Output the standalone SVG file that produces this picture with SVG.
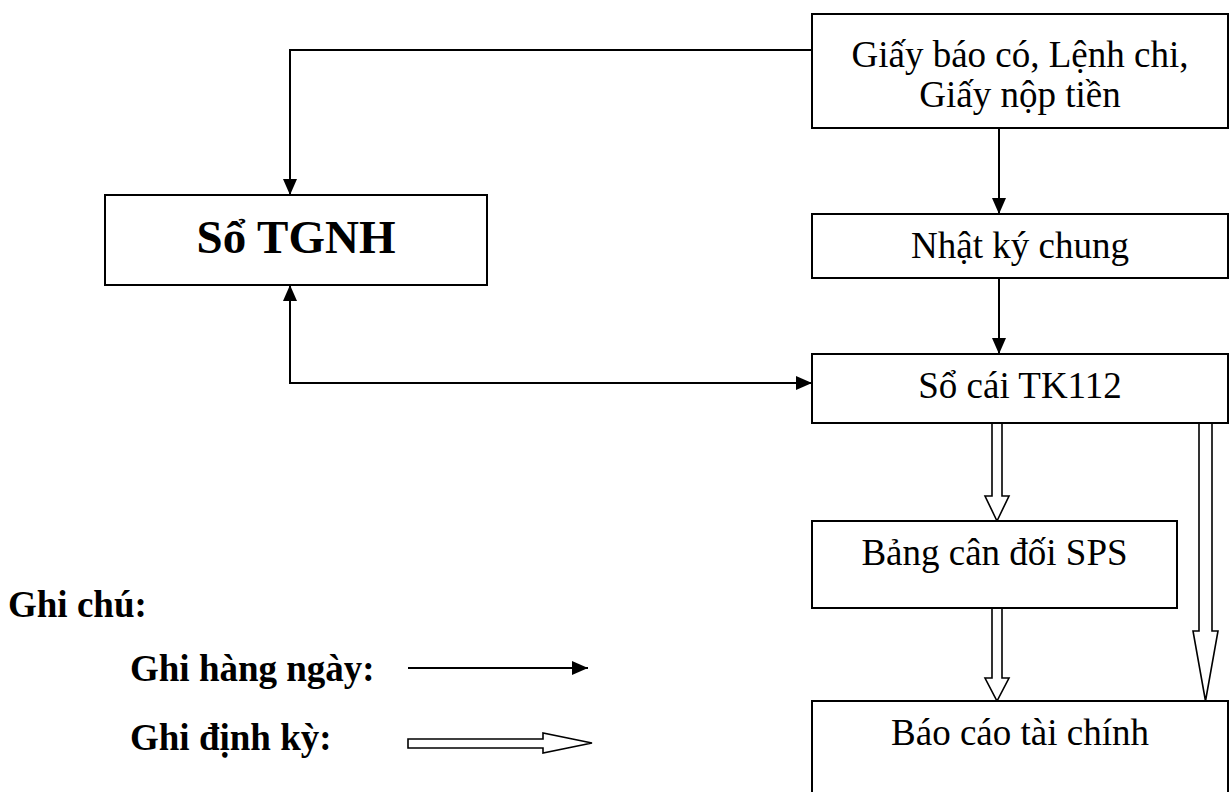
<svg xmlns="http://www.w3.org/2000/svg" width="1231" height="792" viewBox="0 0 1231 792">
  <style>
    .box { fill: #fff; stroke: #000; stroke-width: 2; }
    .txt { font-family: "Liberation Serif", "Times New Roman", serif; font-size: 37px; fill: #000; }
    .bold { font-weight: bold; }
    .mid { text-anchor: middle; }
    .line { fill: none; stroke: #000; stroke-width: 2; }
    .hollow { fill: #fff; stroke: #000; stroke-width: 1.6; stroke-linejoin: miter; }
  </style>
  <defs>
    <marker id="head" viewBox="0 0 16 14" refX="16" refY="7" markerWidth="16" markerHeight="14" markerUnits="userSpaceOnUse" orient="auto-start-reverse">
      <path d="M0,0 L16,7 L0,14 z" fill="#000"/>
    </marker>
  </defs>
  <rect width="1231" height="792" fill="#fff"/>

  <!-- connectors -->
  <g id="connectors">
    <path class="line" d="M812,50 H290 V195" marker-end="url(#head)"/>
    <path class="line" d="M999,128 V214" marker-end="url(#head)"/>
    <path class="line" d="M999,278 V354" marker-end="url(#head)"/>
    <path class="line" d="M290,285 V383 H812" marker-start="url(#head)" marker-end="url(#head)"/>
    <polygon class="hollow" points="992,423 1002,423 1002,496 1009,496 997,521 985,496 992,496"/>
    <polygon class="hollow" points="992,608 1002,608 1002,678 1009,678 997,701 985,678 992,678"/>
    <polygon class="hollow" points="1199,423 1212,423 1212,631 1218,631 1205.5,701 1193,631 1199,631"/>
  </g>

  <g id="giay-bao-co">
    <rect class="box" x="812" y="14" width="416" height="114"/>
    <text class="txt mid" x="1020" y="67">Giấy báo có, Lệnh chi,</text>
    <text class="txt mid" x="1020" y="107">Giấy nộp tiền</text>
  </g>

  <g id="so-tgnh">
    <rect class="box" x="105" y="195" width="382" height="90"/>
    <text class="txt bold mid" x="296" y="253" style="font-size:47px">Sổ TGNH</text>
  </g>

  <g id="nhat-ky-chung">
    <rect class="box" x="812" y="214" width="416" height="64"/>
    <text class="txt mid" x="1020" y="258">Nhật ký chung</text>
  </g>

  <g id="so-cai">
    <rect class="box" x="812" y="354" width="416" height="69"/>
    <text class="txt mid" x="1020" y="398">Sổ cái TK112</text>
  </g>

  <g id="bang-can-doi">
    <rect class="box" x="812" y="521" width="365" height="87"/>
    <text class="txt mid" x="994.5" y="565">Bảng cân đối SPS</text>
  </g>

  <g id="bao-cao">
    <rect class="box" x="812" y="701" width="416" height="120"/>
    <text class="txt mid" x="1020" y="745">Báo cáo tài chính</text>
  </g>

  <!-- legend -->
  <g id="legend">
    <text class="txt bold" x="8" y="617">Ghi chú:</text>
    <text class="txt bold" x="130" y="681">Ghi hàng ngày:</text>
    <text class="txt bold" x="130" y="750">Ghi định kỳ:</text>
    <path class="line" d="M408,668 H588" marker-end="url(#head)"/>
    <polygon class="hollow" points="408,739 543,739 543,733 592,743 543,753 543,748 408,748"/>
  </g>
</svg>
